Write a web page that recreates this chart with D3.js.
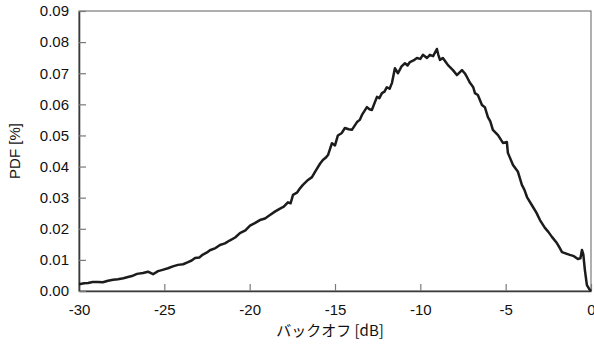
<!DOCTYPE html>
<html>
<head>
<meta charset="utf-8">
<style>
  body { margin: 0; background: #fff; }
  text { font-family: "Liberation Sans", Arial, sans-serif; fill: #111; }
</style>
</head>
<body>
<script src="https://d3js.org/d3.v7.min.js"></script>
<script>

  var backoff = [-30.0, -29.7, -29.47, -29.2, -28.89, -28.6, -28.30, -28.0, -27.72, -27.4,
    -27.13, -26.9, -26.60, -26.25, -25.96, -25.66, -25.37, -25.1, -24.79, -24.5,
    -24.20, -23.9, -23.61, -23.4, -23.20, -22.95, -22.74, -22.5, -22.33, -22.0,
    -21.74, -21.45, -21.15, -20.85, -20.57, -20.25, -19.98, -19.7, -19.40, -19.1,
    -18.81, -18.5, -18.22, -18.0, -17.76, -17.6, -17.46, -17.23, -17.05, -16.88,
    -16.58, -16.35, -16.17, -15.88, -15.71, -15.55, -15.41, -15.18, -15.0, -14.83,
    -14.6, -14.42, -14.2, -14.01, -13.71, -13.55, -13.42, -13.13, -12.98, -12.84,
    -12.54, -12.4, -12.25, -12.1, -11.96, -11.8, -11.66, -11.49, -11.31, -11.1,
    -10.90, -10.75, -10.61, -10.4, -10.20, -10.0, -9.85, -9.61, -9.44, -9.25,
    -9.03, -8.95, -8.85, -8.68, -8.5, -8.38, -8.09, -7.86, -7.56, -7.4,
    -7.27, -7.09, -6.9, -6.80, -6.63, -6.39, -6.22, -6.04, -5.9, -5.75,
    -5.45, -5.16, -4.93, -4.87, -4.57, -4.28, -4.05, -3.9, -3.75, -3.40,
    -3.2, -2.99, -2.70, -2.5, -2.29, -2.00, -1.85, -1.70, -1.24, -1.0,
    -0.77, -0.62, -0.53, -0.45, -0.36, -0.24, -0.1, 0.0];

  var pdf = [0.0022, 0.0025, 0.0026, 0.0029, 0.0029, 0.0028, 0.0033, 0.0036, 0.0038, 0.0041,
    0.0045, 0.0048, 0.0055, 0.0058, 0.0062, 0.0054, 0.0064, 0.0068, 0.0073, 0.0079,
    0.0084, 0.0086, 0.0093, 0.0098, 0.0106, 0.0108, 0.0117, 0.0124, 0.0131, 0.0138,
    0.0148, 0.0153, 0.0163, 0.0172, 0.0186, 0.0195, 0.0210, 0.0218, 0.0228, 0.0233,
    0.0244, 0.0256, 0.0265, 0.0271, 0.0285, 0.0282, 0.0309, 0.0316, 0.0330, 0.0341,
    0.0357, 0.0366, 0.0383, 0.0409, 0.0421, 0.0428, 0.0437, 0.0475, 0.0468, 0.0500,
    0.0508, 0.0524, 0.0520, 0.0518, 0.0543, 0.0550, 0.0566, 0.0591, 0.0584, 0.0582,
    0.0624, 0.0620, 0.0636, 0.0641, 0.0655, 0.0650, 0.0669, 0.0716, 0.0700, 0.0722,
    0.0732, 0.0725, 0.0736, 0.0741, 0.0749, 0.0746, 0.0759, 0.0749, 0.0759, 0.0755,
    0.0778, 0.0760, 0.0743, 0.0749, 0.0735, 0.0726, 0.0710, 0.0694, 0.0710, 0.0700,
    0.0688, 0.0669, 0.0655, 0.0636, 0.0630, 0.0598, 0.0591, 0.0559, 0.0545, 0.0518,
    0.0501, 0.0476, 0.0479, 0.0444, 0.0405, 0.0383, 0.0341, 0.0325, 0.0302, 0.0270,
    0.0252, 0.0228, 0.0203, 0.0190, 0.0174, 0.0154, 0.0140, 0.0125, 0.0116, 0.0112,
    0.0103, 0.0105, 0.0132, 0.0118, 0.0068, 0.0019, 0.0006, 0.0000];

  var xTicks = [-30, -25, -20, -15, -10, -5, 0];
  var yTicks = [0, 0.01, 0.02, 0.03, 0.04, 0.05, 0.06, 0.07, 0.08, 0.09];

  var width = 594;
  var height = 345;
  var margin = {top: 11, right: 3, bottom: 54, left: 79};
  var w = width - margin.left - margin.right;
  var h = height - margin.top - margin.bottom;

  var svg = d3.select("body")
      .append("svg")
      .attr("width", width)
      .attr("height", height);

  var g = svg.append("g")
      .attr("transform", "translate(" + margin.left + "," + margin.top + ")");

  var x = d3.scaleLinear().domain([-30, 0]).range([0, w]);
  var y = d3.scaleLinear().domain([0, 0.09]).range([h, 0]);

  // frame
  g.append("rect")
      .attr("x", 0)
      .attr("y", 0)
      .attr("width", w)
      .attr("height", h)
      .attr("fill", "none")
      .attr("stroke", "#7a7a7a")
      .attr("stroke-width", 1.2);

  // axes with inward ticks, plain hyphen for the minus sign
  var xAxis = g.append("g")
      .attr("transform", "translate(0," + h + ")")
      .call(d3.axisBottom(x).tickValues(xTicks).tickSizeInner(-7).tickSizeOuter(0)
        .tickPadding(13).tickFormat(function (d) { return String(d); }));

  var yAxis = g.append("g")
      .call(d3.axisLeft(y).tickValues(yTicks).tickSizeInner(-7).tickSizeOuter(0)
        .tickPadding(10).tickFormat(function (d) { return d.toFixed(2); }));

  [xAxis, yAxis].forEach(function (a) {
    a.select(".domain").attr("stroke", "#3a3a3a").attr("stroke-width", 1.6);
    a.selectAll(".tick line").attr("stroke", "#7a7a7a").attr("stroke-width", 1.2);
    a.selectAll(".tick text")
        .style("font-family", "'Liberation Sans', Arial, sans-serif")
        .style("font-size", "15px")
        .attr("fill", "#111");
  });

  // the curve
  var points = backoff.map(function (d, i) { return [d, pdf[i]]; });

  var line = d3.line()
      .x(function (d) { return x(d[0]); })
      .y(function (d) { return y(d[1]); });

  g.append("path")
      .datum(points)
      .attr("d", line)
      .attr("fill", "none")
      .attr("stroke", "#1c1c1c")
      .attr("stroke-width", 2.5)
      .attr("stroke-linejoin", "round");

  // axis titles
  svg.append("text")
      .attr("x", 330)
      .attr("y", 336)
      .attr("text-anchor", "middle")
      .style("font-size", "15px")
      .style("font-family", "'Noto Sans CJK JP', 'Liberation Sans', sans-serif")
      .text("バックオフ [dB]");

  svg.append("text")
      .attr("transform", "translate(20," + (margin.top + h / 2) + ") rotate(-90)")
      .attr("text-anchor", "middle")
      .style("font-size", "15px")
      .text("PDF [%]");

</script>
</body>
</html>
